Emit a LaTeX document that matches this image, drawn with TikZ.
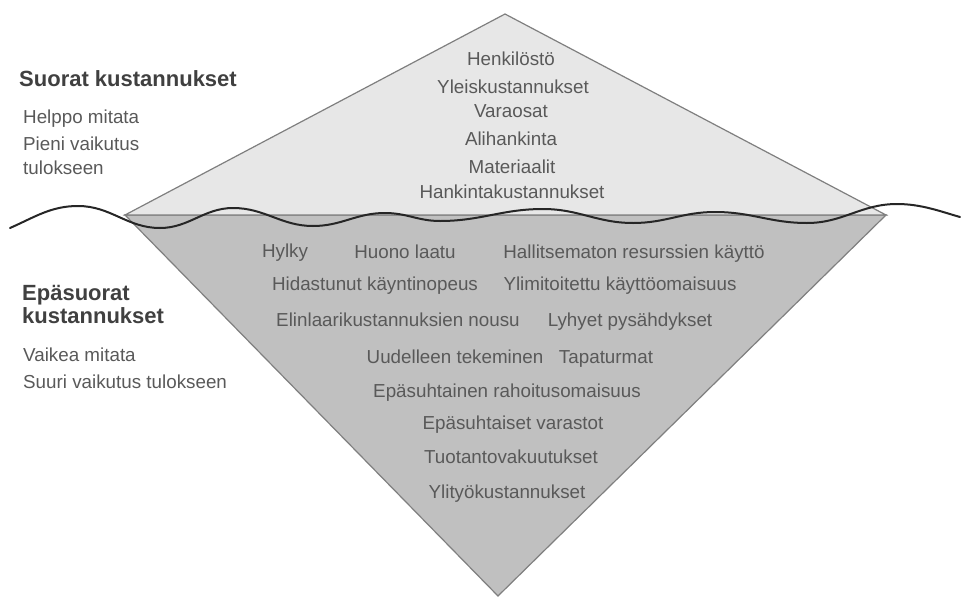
\documentclass[tikz,border=0pt]{standalone}
\usepackage{fontspec}
\setmainfont{Liberation Sans}
\definecolor{txt}{HTML}{595959}
\definecolor{head}{HTML}{404040}
\definecolor{edge}{HTML}{7F7F7F}
\definecolor{iceTop}{HTML}{E7E7E7}
\definecolor{iceBottom}{HTML}{C0C0C0}
\definecolor{wave}{HTML}{262626}
\tikzset{
  item/.style={anchor=base, inner sep=0pt, text=txt, font=\fontsize{18.8}{22}\selectfont},
  side/.style={anchor=base west, inner sep=0pt, text=txt, font=\fontsize{18.8}{22}\selectfont},
  heading/.style={anchor=base west, inner sep=0pt, text=head, font=\fontsize{22}{26}\selectfont\bfseries},
  ice/.style={draw=edge, line width=1.2pt, line join=miter},
}
\begin{document}
\begin{tikzpicture}[x=1pt, y=-1pt]
\useasboundingbox (0,0) rectangle (961,597);

% iceberg: visible tip and submerged part
\coordinate (L) at (125,215);
\coordinate (R) at (886,215);
\coordinate (T) at (505,14);
\coordinate (B) at (498,596);
\filldraw[ice, fill=iceBottom] (L) -- (R) -- (B) -- cycle;
\filldraw[ice, fill=iceTop] (L) -- (T) -- (R) -- cycle;

% water line
\draw[wave, line width=2pt, line cap=round]
  (10,228) .. controls (35,217) and (51,206) .. (78,206)
  .. controls (111,206) and (127,228) .. (160,228)
  .. controls (189,228) and (204,208) .. (233,208)
  .. controls (265,208) and (281,226) .. (313,226)
  .. controls (342,226) and (356,213) .. (385,213)
  .. controls (407,213) and (418,221) .. (440,221)
  .. controls (481,221) and (502,209) .. (543,209)
  .. controls (579,209) and (597,223) .. (633,223)
  .. controls (666,223) and (682,212) .. (715,212)
  .. controls (752,212) and (770,223) .. (807,223)
  .. controls (843,223) and (861,204) .. (897,204)
  .. controls (922,204) and (942,212) .. (960,217);

% direct costs (above the water)
\node[item] (d1) at (511,65)  {Henkilöstö};
\node[item] (d2) at (513,93)  {Yleiskustannukset};
\node[item] (d3) at (511,117) {Varaosat};
\node[item] (d4) at (511,145) {Alihankinta};
\node[item] (d5) at (512,173) {Materiaalit};
\node[item] (d6) at (512,198) {Hankintakustannukset};

% indirect costs (below the water)
\node[item] (i1)  at (285,257) {Hylky};
\node[item] (i2)  at (405,258) {Huono laatu};
\node[item] (i3)  at (634,258) {Hallitsematon resurssien käyttö};
\node[item] (i4)  at (375,290) {Hidastunut käyntinopeus};
\node[item] (i5)  at (620,290) {Ylimitoitettu käyttöomaisuus};
\node[item] (i6)  at (398,326) {Elinlaarikustannuksien nousu};
\node[item] (i7)  at (630,326) {Lyhyet pysähdykset};
\node[item] (i8)  at (455,363) {Uudelleen tekeminen};
\node[item] (i9)  at (606,363) {Tapaturmat};
\node[item] (i10) at (507,397) {Epäsuhtainen rahoitusomaisuus};
\node[item] (i11) at (513,429) {Epäsuhtaiset varastot};
\node[item] (i12) at (511,463) {Tuotantovakuutukset};
\node[item] (i13) at (507,498) {Ylityökustannukset};

% side captions
\node[heading] (h1) at (19,86) {Suorat kustannukset};
\node[side] (s1) at (23,123) {Helppo mitata};
\node[side] (s2) at (23,150) {Pieni vaikutus};
\node[side] (s3) at (23,174) {tulokseen};

\node[heading] (h2) at (22,300) {Epäsuorat};
\node[heading] (h3) at (22,323) {kustannukset};
\node[side] (s4) at (23,361) {Vaikea mitata};
\node[side] (s5) at (23,388) {Suuri vaikutus tulokseen};
\end{tikzpicture}
\end{document}
